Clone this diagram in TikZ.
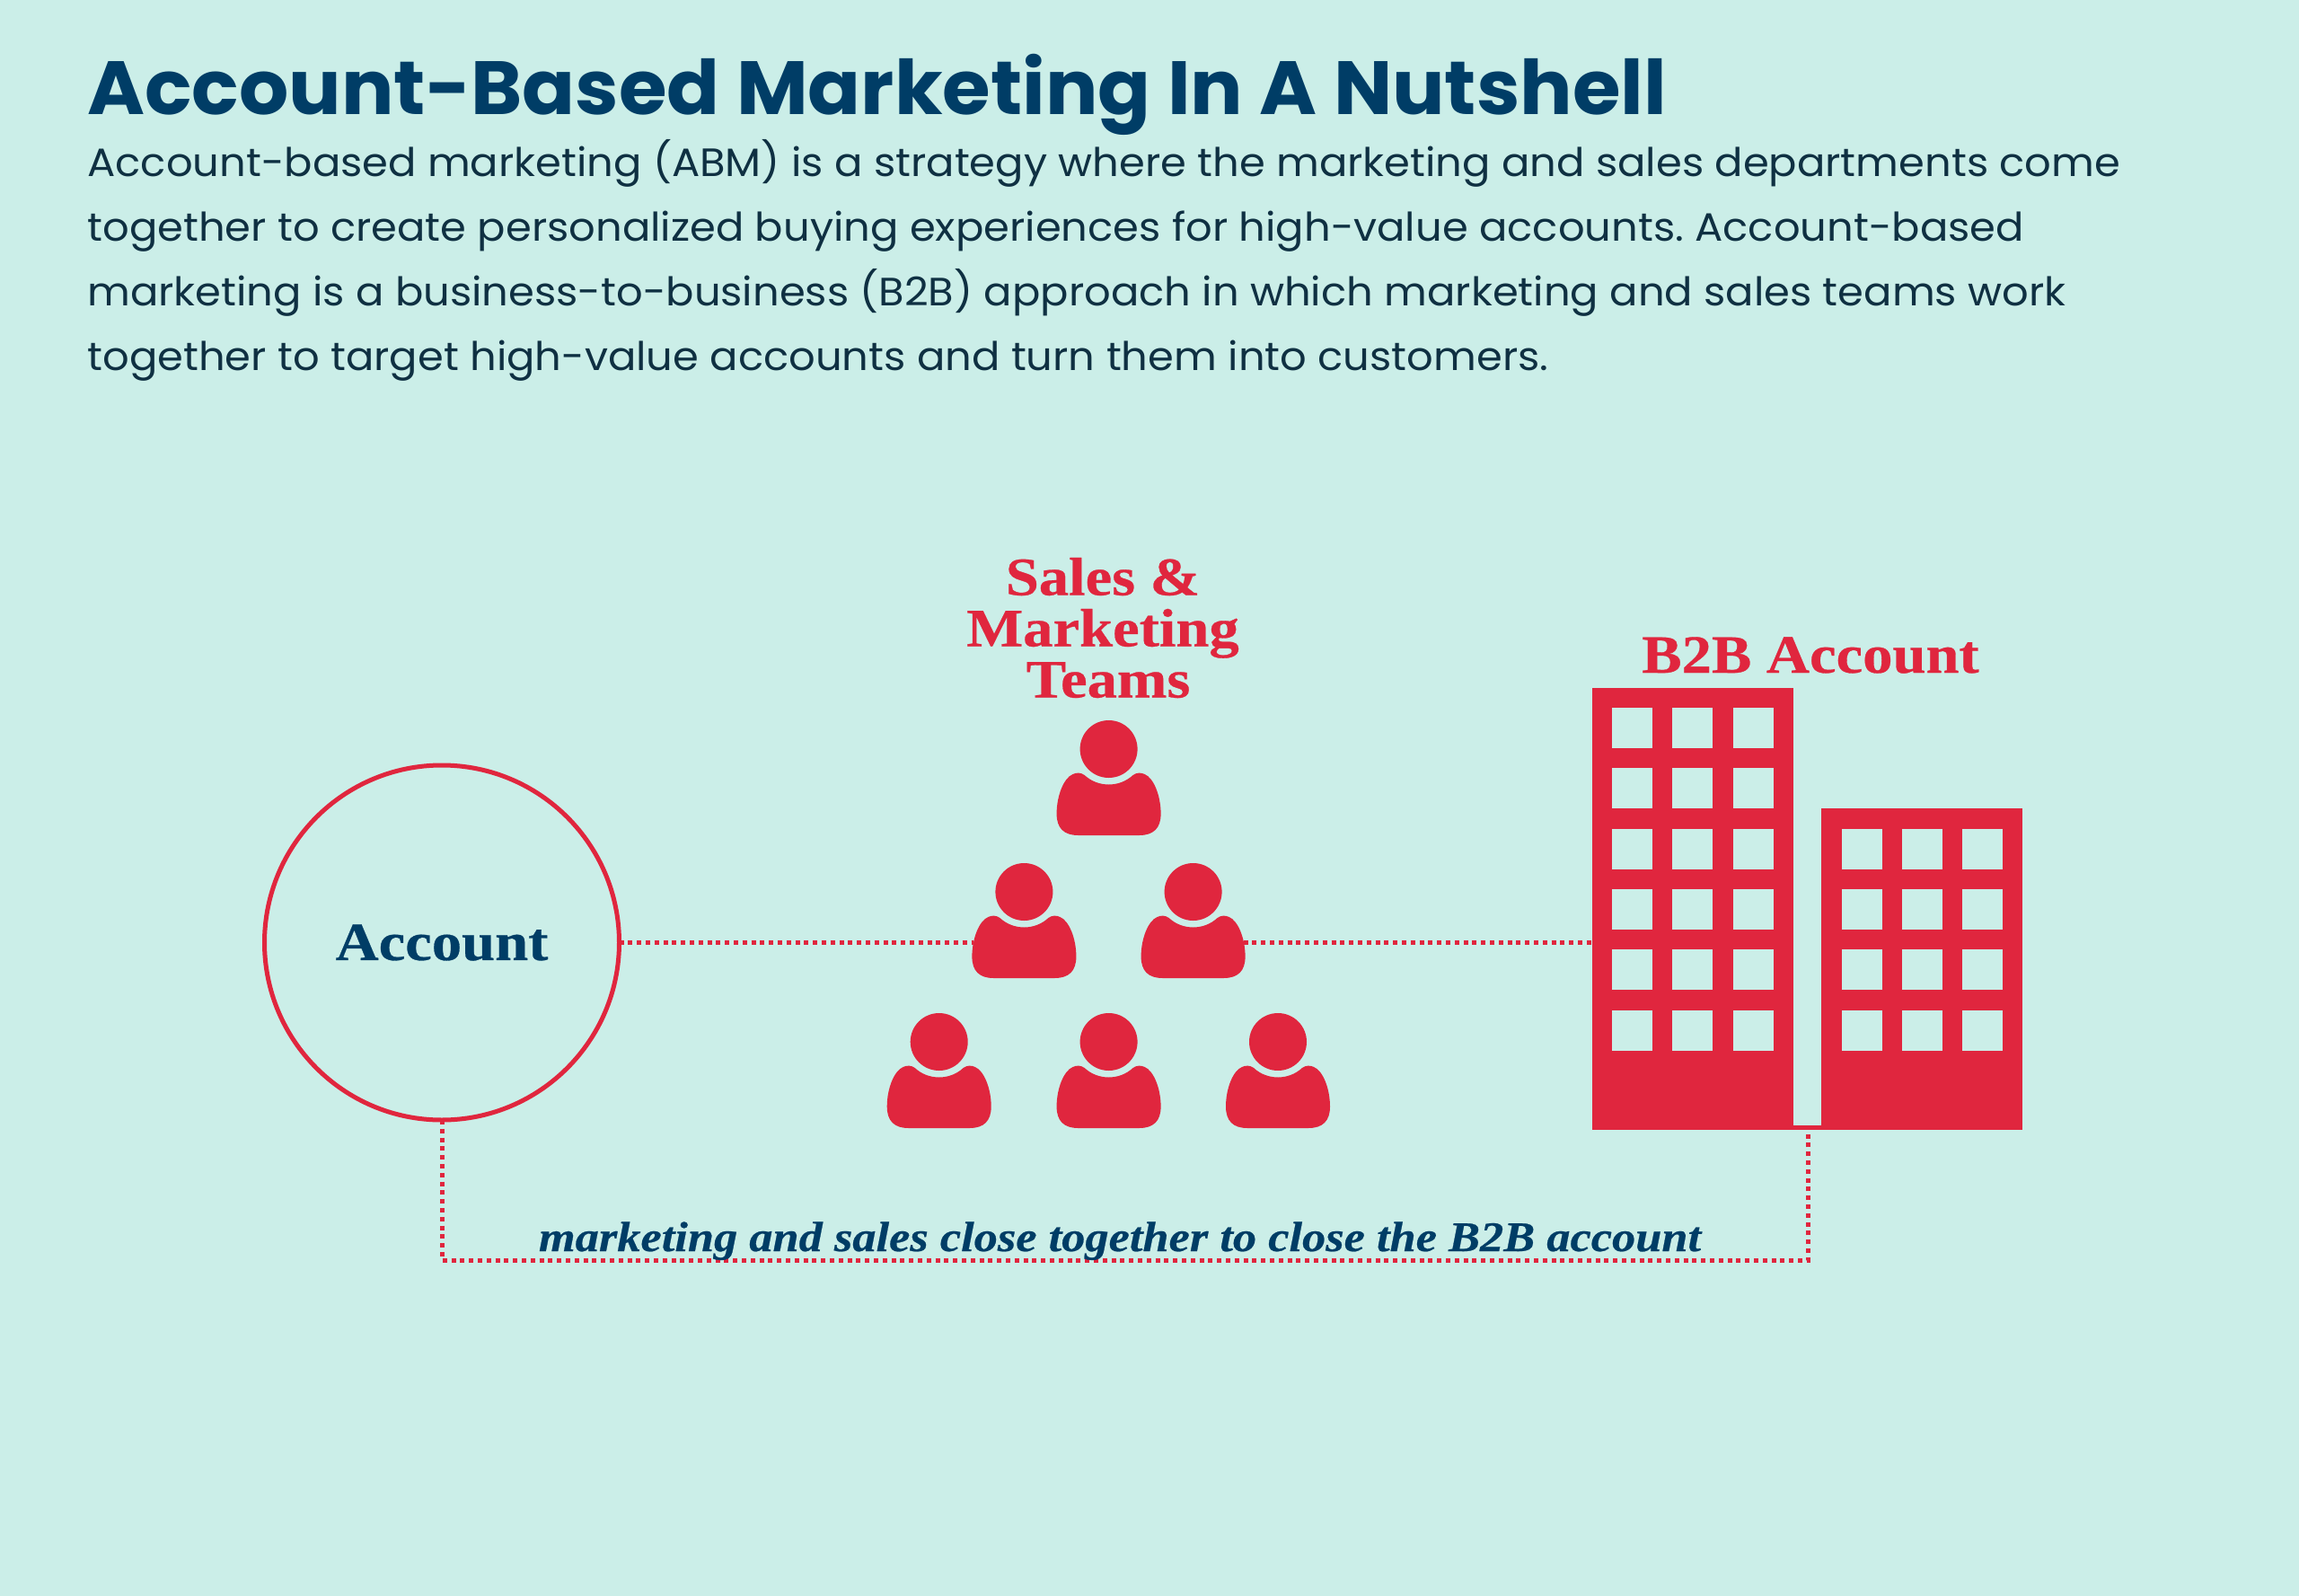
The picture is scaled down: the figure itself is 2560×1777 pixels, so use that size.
\documentclass[tikz,border=0pt]{standalone}
\usepackage{fontspec}
\usetikzlibrary{calc, positioning}
\setmainfont[FakeStretch=1.055]{Poppins}
\newfontfamily\titlefont[FakeStretch=1.034]{Poppins Bold}
\newfontfamily\serifbold[FakeStretch=1.11, FakeBold=0.5]{Liberation Serif Bold}
\newfontfamily\serifital[FakeStretch=1.115, FakeBold=0.5]{Liberation Serif Bold Italic}
\definecolor{bgmint}{RGB}{203,238,232}
\definecolor{alertred}{RGB}{224,38,62}
\definecolor{navy}{RGB}{0,61,102}
\definecolor{bodyink}{RGB}{15,48,66}
\tikzstyle{headline} = [anchor=base west, inner sep=0, text=navy, font=\titlefont\fontsize{42}{46}\selectfont]
\tikzstyle{paragraph} = [anchor=north west, inner sep=0, align=left, text=bodyink, font=\frenchspacing\fontsize{22}{36}\selectfont]
\tikzstyle{redlabel} = [inner sep=0, align=center, text=alertred, font=\serifbold\fontsize{30}{28.5}\selectfont]
\tikzstyle{dotline} = [alertred, line width=2.5pt, dash pattern=on 2.5pt off 2.4pt]
\tikzstyle{building} = [anchor=north west, rectangle, fill=alertred, inner sep=0, outer sep=0]
\tikzstyle{windowpane} = [fill=bgmint]
\tikzset{person/.pic={
	\fill[alertred] (0,0) circle (32);
	\fill[alertred] (-27,29) .. controls (-12,43) and (12,43) .. (27,29)
		.. controls (31,26) and (36,26) .. (40,28)
		.. controls (50,32) and (58,52) .. (58,72)
		.. controls (58,88) and (50,96) .. (34,96)
		-- (-34,96)
		.. controls (-50,96) and (-58,88) .. (-58,72)
		.. controls (-58,52) and (-50,32) .. (-40,28)
		.. controls (-36,26) and (-31,26) .. (-27,29) -- cycle;
	\coordinate (-west) at (-56,56.5);
	\coordinate (-east) at (56,56.5);
}}

\begin{document}
\begin{tikzpicture}[x=0.5pt, y=-0.5pt]
	\fill[bgmint] (0,0) rectangle (2560,1777);
	\useasboundingbox (0,0) rectangle (2560,1777);

	\node[headline] (title) at (97,127) {Account-Based Marketing In A Nutshell};
	\node[paragraph] (intro) at (97,155) {Account-based marketing (ABM) is a strategy where the marketing and sales departments come\\
		together to create personalized buying experiences for high-value accounts. Account-based\\
		marketing is a business-to-business (B2B) approach in which marketing and sales teams work\\
		together to target high-value accounts and turn them into customers.};

	\node[draw=alertred, line width=2.5pt, circle, minimum size=197.5pt, inner sep=0, outer sep=0, text=navy, font=\serifbold\fontsize{30}{32}\selectfont] (account) at (492,1049.5) {Account};

	% team of six
	\pic (top) at (1234.6,834) {person};
	\pic (midleft) at (1140.4,993) {person};
	\pic (midright) at (1328.6,993) {person};
	\pic (lowleft) at (1045.7,1160) {person};
	\pic (lowmid) at (1234.6,1160) {person};
	\pic (lowright) at (1423,1160) {person};
	\node[redlabel] (team) at (1228,699) {Sales \&\\Marketing\\\hspace*{6pt}Teams};

	% two towers
	\node[building, minimum width=112.2pt, minimum height=246pt] (towerleft) at (1773,765.5) {};
	\node[building, minimum width=112.2pt, minimum height=179pt] (towerright) at (2028,899.5) {};
	\node[building, minimum width=15.5pt, minimum height=2.5pt] (footing) at (1997,1253) {};
	\foreach \col in {1795,1862.3,1930} {
		\foreach \row in {788,855.3,922.6,990,1057.3,1124.6} {
			\fill[windowpane] (\col,\row) rectangle ++(45,45);
		}
	}
	\foreach \col in {2050.6,2118,2185} {
		\foreach \row in {922.6,990,1057.3,1124.6} {
			\fill[windowpane] (\col,\row) rectangle ++(45,45);
		}
	}
	\node[redlabel, anchor=base] (b2b) at (2016,749) {B2B Account};

	\coordinate (linkcorner) at (2013.5,1403);
	\draw[dotline] (account.east) -- (midleft-west);
	\draw[dotline] (midright-east) -- (towerleft.west |- midright-east);
	\draw[dotline] (account.south) |- (linkcorner) -- (footing.south -| linkcorner);

	\node[anchor=base, inner sep=0, text=navy, font=\serifital\fontsize{23.5}{26}\selectfont] (caption) at (1247,1393) {marketing and sales close together to close the B2B account};
\end{tikzpicture}
\end{document}
